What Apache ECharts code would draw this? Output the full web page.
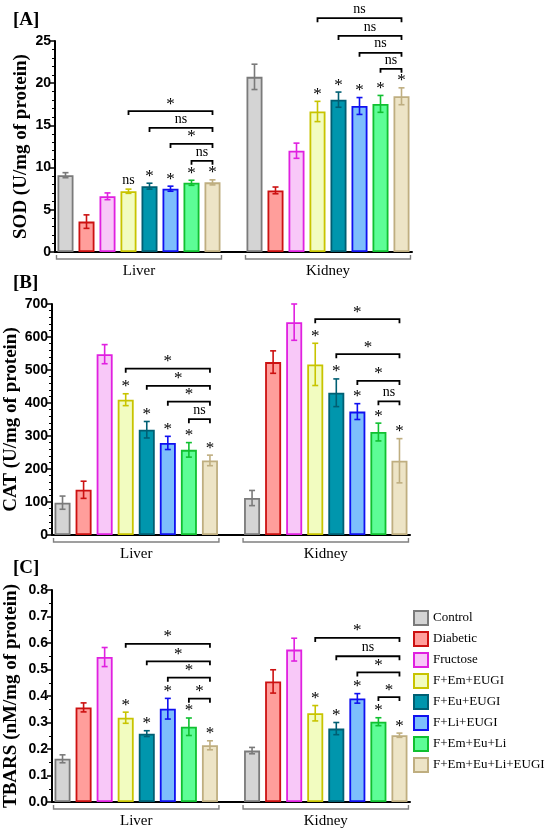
<!DOCTYPE html>
<html>
<head>
<meta charset="utf-8">
<script src="https://cdn.jsdelivr.net/npm/echarts@6/dist/echarts.min.js"></script>
<style>
html,body{margin:0;padding:0;background:#fff}
#main{width:550px;height:833px}
</style>
</head>
<body>
<div id="main"></div>
<script>
// groups and colours
const groups = ['Control', 'Diabetic', 'Fructose', 'F+Em+EUGI', 'F+Eu+EUGI', 'F+Li+EUGI', 'F+Em+Eu+Li', 'F+Em+Eu+Li+EUGI'];
const fills = ['#d4d4d4', '#ff9e9b', '#f8c8f8', '#f2fcc0', '#0096ad', '#7dbefc', '#5dfd96', '#ede4c6'];
const borders = ['#7a7a7a', '#cc1111', '#e020e0', '#c8c400', '#005f73', '#1010f0', '#10c030', '#bfae80'];
const tissues = ['Liver', 'Kidney'];

// [A] SOD
const sodLiver = [9.1, 3.6, 6.6, 7.2, 7.8, 7.5, 8.2, 8.25];
const sodLiverSd = [0.3, 0.8, 0.4, 0.25, 0.35, 0.3, 0.3, 0.3];
const sodLiverMark = ['', '', '', 'ns', '*', '*', '*', '*'];
const sodKidney = [20.75, 7.3, 12.0, 16.65, 18.05, 17.3, 17.55, 18.45];
const sodKidneySd = [1.5, 0.4, 0.9, 1.2, 0.9, 1.0, 1.0, 1.0];
const sodKidneyMark = ['', '', '', '*', '*', '*', '*', '*'];
// brackets: [from group, height, label], all end at the last group
const sodLiverBr = [[3, 16.7, '*'], [4, 14.7, 'ns'], [5, 12.8, '*'], [6, 10.8, 'ns']];
const sodKidneyBr = [[3, 27.7, 'ns'], [4, 25.6, 'ns'], [5, 23.6, 'ns'], [6, 21.7, 'ns']];

// [B] CAT
const catLiver = [98, 137, 548, 410, 319, 279, 258, 226];
const catLiverSd = [20, 26, 29, 18, 25, 20, 22, 16];
const catLiverMark = ['', '', '', '*', '*', '*', '*', '*'];
const catKidney = [112, 524, 645, 517, 431, 374, 312, 225];
const catKidneySd = [23, 34, 55, 64, 42, 24, 27, 67];
const catKidneyMark = ['', '', '', '*', '*', '*', '*', '*'];
const catLiverBr = [[3, 504, '*'], [4, 452, '*'], [5, 404, '*'], [6, 351, 'ns']];
const catKidneyBr = [[3, 654, '*'], [4, 548, '*'], [5, 467, '*'], [6, 405, 'ns']];

// [C] TBARS
const tbLiver = [0.163, 0.357, 0.547, 0.318, 0.258, 0.352, 0.284, 0.214];
const tbLiverSd = [0.015, 0.017, 0.036, 0.021, 0.011, 0.039, 0.033, 0.017];
const tbLiverMark = ['', '', '', '*', '*', '*', '*', '*'];
const tbKidney = [0.194, 0.455, 0.575, 0.335, 0.277, 0.391, 0.303, 0.252];
const tbKidneySd = [0.012, 0.044, 0.043, 0.029, 0.023, 0.018, 0.015, 0.008];
const tbKidneyMark = ['', '', '', '*', '*', '*', '*', '*'];
const tbLiverBr = [[3, 0.597, '*'], [4, 0.531, '*'], [5, 0.469, '*'], [6, 0.39, '*']];
const tbKidneyBr = [[3, 0.619, '*'], [4, 0.55, 'ns'], [5, 0.489, '*'], [6, 0.396, '*']];

// category slots: 8 liver, one empty gap, 8 kidney
const cats = [];
tissues.forEach(function (t, ti) {
  if (ti > 0) cats.push(' ');
  groups.forEach(function (g) { cats.push(t + ' ' + g); });
});
const off = [0, groups.length + 1];

const panels = [
  { tag: '[A]', name: 'SOD (U/mg of protein)', max: 25, interval: 5, minor: 5, nameGap: 24,
    grid: { left: 55, top: 41, width: 357, height: 211 }, titleTop: 6,
    mean: [sodLiver, sodKidney], sd: [sodLiverSd, sodKidneySd], mark: [sodLiverMark, sodKidneyMark], br: [sodLiverBr, sodKidneyBr] },
  { tag: '[B]', name: 'CAT (U/mg of protein)', max: 700, interval: 100, minor: 5, nameGap: 31,
    grid: { left: 52, top: 304, width: 358, height: 231 }, titleTop: 269,
    mean: [catLiver, catKidney], sd: [catLiverSd, catKidneySd], mark: [catLiverMark, catKidneyMark], br: [catLiverBr, catKidneyBr] },
  { tag: '[C]', name: 'TBARS (nM/mg of protein)', max: 0.8, interval: 0.1, minor: 2, nameGap: 31,
    grid: { left: 52, top: 590, width: 358, height: 212 }, titleTop: 554,
    mean: [tbLiver, tbKidney], sd: [tbLiverSd, tbKidneySd], mark: [tbLiverMark, tbKidneyMark], br: [tbLiverBr, tbKidneyBr] }
];

const serif = 'Liberation Serif';
const sans = 'Liberation Sans';

const option = {
  animation: false,
  backgroundColor: '#fff',
  title: [],
  grid: [],
  xAxis: [],
  yAxis: [],
  legend: {
    orient: 'vertical', left: 413, top: 610, padding: 0, itemWidth: 14, itemHeight: 14, itemGap: 5,
    icon: 'rect', selectedMode: false, data: groups,
    textStyle: { fontFamily: serif, fontSize: 13, color: '#000' }
  },
  series: []
};

panels.forEach(function (p, pi) {
  option.title.push({ text: p.tag, left: 8, top: p.titleTop,
    textStyle: { fontFamily: serif, fontWeight: 'bold', fontSize: 19, color: '#000' } });
  option.grid.push(Object.assign({ containLabel: false, outerBoundsMode: 'none' }, p.grid));
  option.xAxis.push({
    type: 'category', gridIndex: pi, data: cats,
    axisLine: { lineStyle: { color: '#000', width: 2 } },
    axisTick: { show: false }, axisLabel: { show: false }
  });
  option.yAxis.push({
    type: 'value', gridIndex: pi, min: 0, max: p.max, interval: p.interval,
    name: p.name, nameLocation: 'middle', nameGap: p.nameGap, nameMoveOverlap: false,
    nameTextStyle: { fontFamily: serif, fontWeight: 'bold', fontSize: 19, color: '#000' },
    axisLine: { show: true, lineStyle: { color: '#000', width: 2 } },
    axisTick: { show: true, length: 5, lineStyle: { color: '#000', width: 1.5 } },
    minorTick: { show: true, splitNumber: p.minor, length: 3, lineStyle: { color: '#000', width: 1 } },
    splitLine: { show: false },
    axisLabel: { fontFamily: sans, fontWeight: 'bold', fontSize: 14, color: '#000', margin: 4,
      formatter: function (v) { return p.max < 1 ? v.toFixed(1) : String(v); } }
  });

  // bars: one series per group, both tissues in its two slots
  groups.forEach(function (g, gi) {
    const data = cats.map(function () { return '-'; });
    tissues.forEach(function (t, ti) { data[off[ti] + gi] = p.mean[ti][gi]; });
    option.series.push({
      name: g, type: 'bar', xAxisIndex: pi, yAxisIndex: pi, data: data,
      barWidth: 16, barGap: '-100%',
      itemStyle: { color: fills[gi], borderColor: borders[gi], borderWidth: 1.8 }
    });
  });

  // error bars + marks above them
  const errData = [], errMark = [];
  tissues.forEach(function (t, ti) {
    groups.forEach(function (g, gi) {
      errData.push([off[ti] + gi, p.mean[ti][gi], p.sd[ti][gi], gi]);
      errMark.push(p.mark[ti][gi]);
    });
  });
  option.series.push({
    type: 'custom', xAxisIndex: pi, yAxisIndex: pi, data: errData, z: 5,
    renderItem: function (params, api) {
      const x = api.value(0), m = api.value(1), s = api.value(2), gi = api.value(3);
      const hi = api.coord([x, m + s]), lo = api.coord([x, m - s]);
      const st = { stroke: borders[gi], lineWidth: 1.6 };
      const kids = [
        { type: 'line', shape: { x1: hi[0], y1: hi[1], x2: lo[0], y2: lo[1] }, style: st },
        { type: 'line', shape: { x1: hi[0] - 3, y1: hi[1], x2: hi[0] + 3, y2: hi[1] }, style: st },
        { type: 'line', shape: { x1: lo[0] - 3, y1: lo[1], x2: lo[0] + 3, y2: lo[1] }, style: st }
      ];
      const mk = errMark[params.dataIndex];
      if (mk) {
        kids.push({ type: 'text', style: { text: mk, x: hi[0], y: hi[1] - (mk === '*' ? 7 : 9),
          align: 'center', verticalAlign: 'middle', font: (mk === '*' ? '17px ' : '14px ') + serif, fill: '#000' } });
      }
      return { type: 'group', children: kids };
    }
  });

  // comparison brackets
  const brData = [], brLabel = [];
  tissues.forEach(function (t, ti) {
    p.br[ti].forEach(function (b) {
      brData.push([off[ti] + b[0], off[ti] + groups.length - 1, b[1]]);
      brLabel.push(b[2]);
    });
  });
  option.series.push({
    type: 'custom', xAxisIndex: pi, yAxisIndex: pi, data: brData, z: 6, clip: false,
    renderItem: function (params, api) {
      const a = api.coord([api.value(0), api.value(2)]);
      const b = api.coord([api.value(1), api.value(2)]);
      const lb = brLabel[params.dataIndex];
      return { type: 'group', children: [
        { type: 'polyline', shape: { points: [[a[0], a[1] + 4], [a[0], a[1]], [b[0], b[1]], [b[0], b[1] + 4]] },
          style: { stroke: '#000', lineWidth: 1.8, fill: null } },
        { type: 'text', style: { text: lb, x: (a[0] + b[0]) / 2, y: a[1] - (lb === '*' ? 7 : 9),
          align: 'center', verticalAlign: 'middle', font: (lb === '*' ? '17px ' : '14px ') + serif, fill: '#000' } }
      ] };
    }
  });

  // tissue brackets under the axis
  const tData = tissues.map(function (t, ti) { return [off[ti], off[ti] + groups.length - 1]; });
  option.series.push({
    type: 'custom', xAxisIndex: pi, yAxisIndex: pi, data: tData, clip: false,
    renderItem: function (params, api) {
      const a = api.coord([api.value(0), 0]);
      const b = api.coord([api.value(1), 0]);
      const x1 = a[0] - 9, x2 = b[0] + 9, y = a[1] + 7;
      return { type: 'group', children: [
        { type: 'polyline', shape: { points: [[x1, y - 4], [x1, y], [x2, y], [x2, y - 4]] },
          style: { stroke: '#808080', lineWidth: 1.4, fill: null } },
        { type: 'text', style: { text: tissues[params.dataIndex], x: (x1 + x2) / 2, y: y + 12,
          align: 'center', verticalAlign: 'middle', font: '15px ' + serif, fill: '#000' } }
      ] };
    }
  });
});

const chart = echarts.init(document.getElementById('main'));
chart.setOption(option);
</script>
</body>
</html>
